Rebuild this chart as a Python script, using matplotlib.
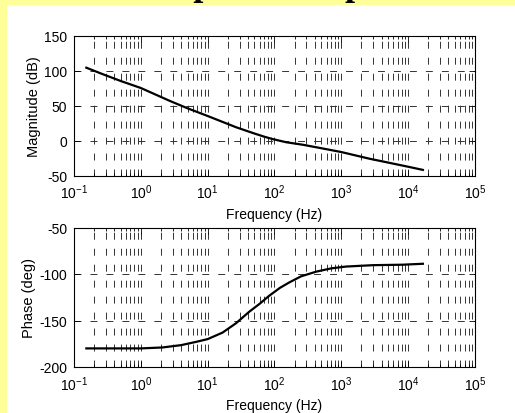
import matplotlib.pyplot as plt
from matplotlib.patches import Rectangle
from matplotlib.ticker import LogLocator

plt.rcParams['font.family'] = ['Liberation Sans', 'DejaVu Sans']
plt.rcParams['mathtext.fontset'] = 'custom'
plt.rcParams['mathtext.rm'] = 'Liberation Sans'
plt.rcParams['mathtext.it'] = 'Liberation Sans:italic'
plt.rcParams['mathtext.bf'] = 'Liberation Sans:bold'
plt.rcParams['axes.unicode_minus'] = False
plt.rcParams['lines.scale_dashes'] = False

# frequency response read at a handful of frequencies (Hz)
freq_mag = [0.153, 0.265, 0.5, 1, 2.65, 5, 10, 26.5, 50, 70, 94, 150, 263, 500,
            1000, 2630, 5000, 10000, 16600]
mag_db = [104, 95, 85, 75, 57, 46, 35, 19, 10, 5.5, 2, -2.5, -6, -11,
          -16.5, -26, -31.5, -37.5, -42]

freq_ph = [0.153, 0.5, 1, 2.1, 4, 6.7, 10, 16.7, 26.5, 42, 60, 83, 120, 167, 250,
           420, 700, 1170, 3000, 8300, 16600]
phase_deg = [-180, -180, -180, -179, -176.5, -173, -170, -163, -153, -140.5, -132,
             -123.5, -115, -109, -102.5, -97.5, -94, -92, -90.5, -90, -89]

yellow = '#ffff99'
grid_style = dict(color='0.2', linewidth=0.7, linestyle=(0, (5, 6.5)))

fig = plt.figure(figsize=(5.15, 4.14), dpi=100, facecolor=yellow)
fig.patches.append(Rectangle((7 / 515, 0), 1 - 7 / 515, 1 - 6 / 414,
                             transform=fig.transFigure, facecolor='white',
                             edgecolor='none', zorder=-5))

# slide heading, mostly outside the frame
fig.text(0.483, 1 + 5 / 414, 'Bode plot example', ha='center', va='baseline',
         fontsize=26, fontweight='bold', family='Liberation Serif', zorder=5)

ax1 = fig.add_axes([74 / 515, (414 - 176.5) / 414, 401 / 515, 140 / 414])
ax2 = fig.add_axes([74 / 515, (414 - 368) / 414, 401 / 515, 139.5 / 414])


def style_axes(ax, ylim, yticks, ylabel):
    ax.set_xscale('log')
    ax.set_xlim(0.1, 1e5)
    ax.set_ylim(*ylim)
    ax.set_yticks(yticks)
    ax.xaxis.set_major_locator(LogLocator(base=10, numticks=10))
    ax.xaxis.set_minor_locator(LogLocator(base=10, subs=range(2, 10), numticks=20))
    ax.grid(True, which='both', axis='x', **grid_style)
    ax.grid(True, which='major', axis='y', **grid_style)
    ax.tick_params(which='both', direction='in', top=True, right=True,
                   labelsize=10, width=0.6, color='black')
    ax.tick_params(which='major', length=4, pad=5)
    ax.tick_params(which='minor', length=2)
    for s in ax.spines.values():
        s.set_linewidth(0.8)
    ax.set_xlabel('Frequency (Hz)', fontsize=10, labelpad=4)
    ax.set_ylabel(ylabel, fontsize=10.5, labelpad=2)
    ax.set_axisbelow(True)


ax1.plot(freq_mag, mag_db, color='black', linewidth=1.6)
style_axes(ax1, (-50, 150), [-50, 0, 50, 100, 150], 'Magnitude (dB)')

ax2.plot(freq_ph, phase_deg, color='black', linewidth=1.6)
style_axes(ax2, (-200, -50), [-200, -150, -100, -50], 'Phase (deg)')

fig.savefig('out.png', dpi=100, facecolor=yellow)
